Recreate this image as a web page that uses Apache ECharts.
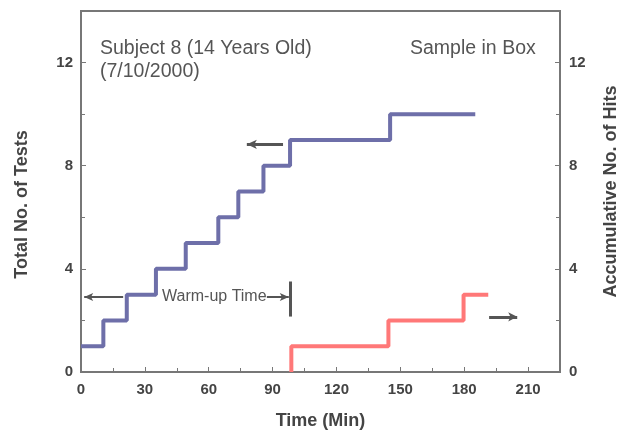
<!DOCTYPE html>
<html>
<head>
<meta charset="utf-8">
<script src="https://cdn.jsdelivr.net/npm/echarts@6/dist/echarts.min.js"></script>
<style>
  html, body { margin: 0; padding: 0; background: #fff; }
  #main { width: 625px; height: 431px; }
</style>
</head>
<body>
<div id="main"></div>
<script>
// step data
var blueTimes = [0, 10.5, 21.5, 35.2, 49.2, 64.5, 73.9, 85.7, 98.2, 145.2, 185.2];
var blueTests = [1, 2, 3, 4, 5, 6, 7, 8, 9, 10, 10];
var redTimes = [98.8, 98.8, 144.4, 179.7, 191.3];
var redHits = [0, 1, 2, 3, 3];

var axisColor = '#777';
var textColor = '#444';
var fontFam = '"Liberation Sans", Arial, sans-serif';

function pairs(xs, ys) {
  return xs.map(function (x, i) { return [x, ys[i]]; });
}

var chart = echarts.init(document.getElementById('main'));

var titleStyle = { color: textColor, fontSize: 18, fontWeight: 'bold', fontFamily: fontFam };
var labelStyle = { color: textColor, fontSize: 15, fontWeight: 'bold', fontFamily: fontFam, showMaxLabel: false };

var yAxisBase = {
  type: 'value',
  min: 0,
  max: 14,
  interval: 4,
  nameLocation: 'middle',
  axisLine: { show: true, lineStyle: { color: axisColor, width: 2 } },
  axisTick: { show: true, inside: true, length: 5, lineStyle: { color: axisColor } },
  minorTick: { show: true, splitNumber: 2, length: 4, lineStyle: { color: axisColor } },
  splitLine: { show: false }
};

var option = {
  animation: false,
  grid: {
    left: 81, right: 65, top: 11, bottom: 59,
    outerBoundsMode: 'none',
    show: true, borderColor: axisColor, borderWidth: 2, backgroundColor: 'transparent'
  },
  xAxis: {
    type: 'value',
    min: 0,
    max: 225,
    interval: 30,
    name: 'Time (Min)',
    nameLocation: 'middle',
    nameGap: 40,
    nameTextStyle: titleStyle,
    axisLine: { show: true, onZero: false, lineStyle: { color: axisColor, width: 2 } },
    axisTick: { show: true, inside: true, length: 5, lineStyle: { color: axisColor } },
    minorTick: { show: true, splitNumber: 2, length: 4, lineStyle: { color: axisColor } },
    axisLabel: Object.assign({}, labelStyle, { margin: 10 }),
    splitLine: { show: false }
  },
  yAxis: [
    Object.assign({}, yAxisBase, {
      position: 'left',
      name: 'Total No. of Tests',
      nameGap: 50,
      nameTextStyle: Object.assign({}, titleStyle, { padding: [0, 26, 0, 0] }),
      axisLabel: Object.assign({}, labelStyle, { margin: 8 })
    }),
    Object.assign({}, yAxisBase, {
      position: 'right',
      name: 'Accumulative No. of Hits',
      nameGap: 42,
      nameTextStyle: titleStyle,
      axisLabel: Object.assign({}, labelStyle, { margin: 9 })
    })
  ],
  series: [
    {
      type: 'line',
      step: 'end',
      yAxisIndex: 0,
      data: pairs(blueTimes, blueTests),
      symbol: 'none',
      lineStyle: { color: '#6e6fa9', width: 4 },
      markLine: {
        silent: true,
        animation: false,
        lineStyle: { color: '#555', width: 2, type: 'solid' },
        label: { show: false },
        data: [
          [{ coord: [77.9, 8.83], symbol: 'arrow', symbolSize: [7, 10] }, { coord: [94.9, 8.83], symbol: 'none', lineStyle: { width: 3 } }],
          [{ coord: [1.5, 2.91], symbol: 'arrow', symbolSize: [6, 9] }, { coord: [19.8, 2.91], symbol: 'none' }],
          [{ coord: [87.3, 2.91], symbol: 'none' }, { coord: [97.6, 2.91], symbol: 'arrow', symbolSize: [6, 9] }],
          [{ coord: [98.1, 3.51], symbol: 'none', lineStyle: { width: 3 } }, { coord: [98.1, 2.15], symbol: 'none' }]
        ]
      }
    },
    {
      type: 'line',
      step: 'end',
      yAxisIndex: 1,
      data: pairs(redTimes, redHits),
      symbol: 'none',
      lineStyle: { color: '#ff7878', width: 4 },
      markLine: {
        silent: true,
        animation: false,
        lineStyle: { color: '#555', width: 3, type: 'solid' },
        label: { show: false },
        data: [
          [{ coord: [191.7, 2.14], symbol: 'none' }, { coord: [204.9, 2.14], symbol: 'arrow', symbolSize: [7, 9] }]
        ]
      }
    }
  ],
  graphic: [
    { type: 'text', left: 100, top: 39, style: { text: 'Subject 8 (14 Years Old)', fill: '#555', font: '19.5px ' + fontFam } },
    { type: 'text', left: 100, top: 62, style: { text: '(7/10/2000)', fill: '#555', font: '19.5px ' + fontFam } },
    { type: 'text', left: 410, top: 39, style: { text: 'Sample in Box', fill: '#555', font: '19.5px ' + fontFam } },
    { type: 'text', left: 162, top: 289, style: { text: 'Warm-up Time', fill: '#555', font: '16px ' + fontFam } }
  ]
};

chart.setOption(option);
</script>
</body>
</html>
